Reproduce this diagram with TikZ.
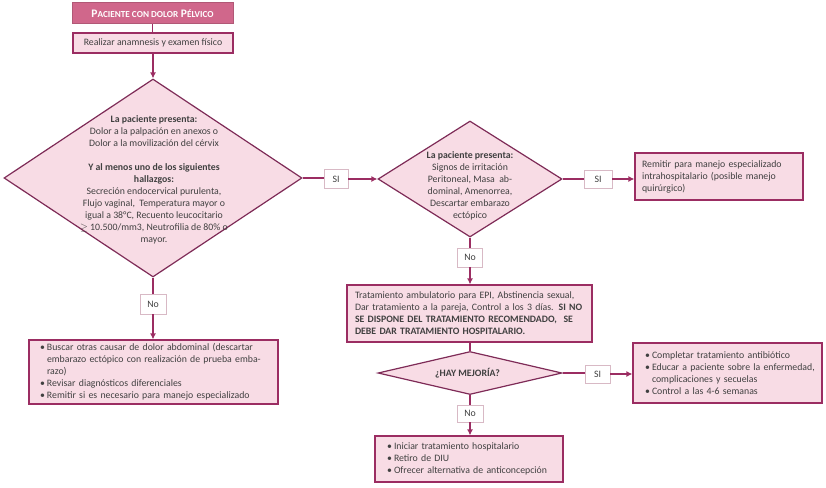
\documentclass[tikz,border=0pt]{standalone}
\usepackage{fontspec}
\setmainfont{Carlito}
\usetikzlibrary{arrows.meta,shapes.geometric}
\definecolor{mag}{HTML}{9B2D62}
\definecolor{diaborder}{HTML}{7E2B57}
\definecolor{pinkfill}{HTML}{F8DCE5}
\definecolor{titlefill}{HTML}{D0678B}
\definecolor{txt}{HTML}{404040}
\definecolor{lblborder}{HTML}{D8B9C5}
\newcommand\bul{\makebox[7pt][l]{\textbullet}}
\newcommand\ind{\hspace*{7pt}}
\begin{document}
\begin{tikzpicture}[x=1pt,y=-1pt,
  every node/.style={font=\fontsize{9.8}{12}\selectfont, text=txt},
  box/.style={draw=mag, fill=pinkfill, line width=1.2pt, inner ysep=0pt, align=left},
  title/.style={draw=titlefill!85!black, fill=titlefill, line width=1pt, inner sep=0pt},
  lbl/.style={draw=lblborder, fill=white, line width=0.8pt, inner sep=0pt},
  dia/.style={diamond, draw=diaborder, fill=pinkfill, line width=1.2pt, inner sep=0pt},
  conn/.style={draw=mag, line width=1.3pt},
  arr/.style={conn, -{Latex[length=6pt,width=6pt]}}]
\useasboundingbox (0,0) rectangle (826,487);
% title and first box
\node[title, minimum width=161pt, minimum height=21pt] (t) at (152.5,13.5)
  {\bfseries\color{white}\fontsize{11.5}{12}\selectfont P{\fontsize{9.2}{10}\selectfont ACIENTE CON DOLOR} P{\fontsize{9.2}{10}\selectfont ÉLVICO}};
\node[box, minimum width=160pt, minimum height=20pt, align=center] (b2) at (153,43) {Realizar anamnesis y examen físico};
% diamond 1
\node[dia, minimum width=298pt, minimum height=198pt] (d1) at (153,178) {};
\node[align=center, inner sep=0pt] (d1t) at (154,180) {\textbf{La paciente presenta:}\\
 Dolor a la palpación en anexos o\\ Dolor a la movilización del cérvix\\[12pt]
 \textbf{Y al menos uno de los siguientes}\\ \textbf{hallazgos:}\\
 Secreción endocervical purulenta,\\ Flujo vaginal,\ \ Temperatura mayor o\\
 igual a 38°C, Recuento leucocitario\\ $\geq$ 10.500/mm3, Neutrofilia de 80\% o\\ mayor.};
% labels
\node[lbl, minimum width=24pt, minimum height=19pt] (si1) at (336,179) {SI};
\node[lbl, minimum width=26pt, minimum height=20pt] (no1) at (153,304) {No};
% bottom left box
\node[box, minimum width=249pt, minimum height=64pt, text width=227pt, inner xsep=11pt] (bl) at (153.5,372)
 {\bul Buscar otras causar de dolor abdominal (descartar\\
  \ind embarazo ectópico con realización de prueba emba-\\
  \ind razo)\\
  \bul Revisar diagnósticos diferenciales\\
  \bul Remitir si es necesario para manejo especializado};
% diamond 2
\node[dia, minimum width=184pt, minimum height=116pt] (d2) at (470,179) {};
\node[align=center, inner sep=0pt] (d2t) at (470,185.5) {\textbf{La paciente presenta:}\\
 Signos de irritación\\ Peritoneal, Masa\ \ ab-\\ dominal, Amenorrea,\\ Descartar embarazo\\ ectópico};
\node[lbl, minimum width=28pt, minimum height=18pt] (si2) at (598,179) {SI};
\node[box, minimum width=168pt, minimum height=47pt, text width=154pt, inner xsep=7pt] (rem) at (719,176.5)
 {Remitir para manejo especializado\\ intrahospitalario (posible manejo\\ quirúrgico)};
\node[lbl, minimum width=25pt, minimum height=19pt] (no2) at (470,257.5) {No};
% treatment box
\node[box, minimum width=245pt, minimum height=57pt, text width=229pt, inner xsep=8pt] (tr) at (469.5,313.5)
 {Tratamiento ambulatorio para EPI, Abstinencia sexual,\\
  Dar tratamiento a la pareja, Control a los 3 días. \textbf{SI NO}\\
  \textbf{SE DISPONE DEL TRATAMIENTO RECOMENDADO,\ \ SE}\\
  \textbf{DEBE DAR TRATAMIENTO HOSPITALARIO.}};
% diamond 3
\node[dia, minimum width=184pt, minimum height=43pt] (d3) at (470,373) {};
\node[inner sep=0pt] (d3t) at (467.5,373) {\textbf{¿HAY MEJORÍA?}};
\node[lbl, minimum width=25pt, minimum height=18pt] (si3) at (597.5,374) {SI};
\node[box, minimum width=189pt, minimum height=60pt, text width=175pt, inner xsep=7pt] (rb) at (727.5,373)
 {\hspace*{5pt}\bul Completar tratamiento antibiótico\\
  \hspace*{5pt}\bul Educar a paciente sobre la enfermedad,\\
  \hspace*{5pt}\ind complicaciones y secuelas\\
  \hspace*{5pt}\bul Control a las 4-6 semanas};
\node[lbl, minimum width=26pt, minimum height=17pt] (no3) at (470,413.5) {No};
\node[box, minimum width=188pt, minimum height=46pt, text width=164pt, inner xsep=12pt] (last) at (469,459)
 {\bul Iniciar tratamiento hospitalario\\
  \bul Retiro de DIU\\
  \bul Ofrecer alternativa de anticoncepción};
% connectors
\draw[conn] (t.south) -- (t.south |- b2.north);
\draw[arr] (b2.south) -- (b2.south |- d1.north);
\draw[conn] (d1.east) -- (d1.east -| si1.west);
\draw[arr] (si1.east) -- (si1.east |- d2.west) -- (d2.west);
\draw[conn] (d1.south) -- (no1.north);
\draw[arr] (no1.south) -- (bl.north -| no1.south);
\draw[conn] (d2.south) -- (no2.north);
\draw[conn] (d2.east) -- (d2.east -| si2.west);
\draw[arr] (si2.east) -- (si2.east -| rem.west);
\draw[arr] (no2.south) -- (tr.north -| no2.south);
\draw[conn] (tr.south -| d3.north) -- (d3.north);
\draw[conn] (d3.east) -- (d3.east -| si3.west);
\draw[arr] (si3.east) -- (si3.east -| rb.west);
\draw[conn] (d3.south) -- (no3.north);
\draw[arr] (no3.south) -- (no3.south |- last.north);
\end{tikzpicture}
\end{document}
